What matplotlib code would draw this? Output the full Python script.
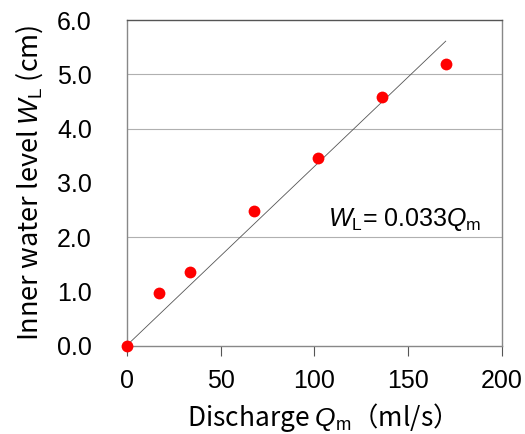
import matplotlib
matplotlib.use("Agg")
import matplotlib.pyplot as plt
import numpy as np

# Data
discharge = [0, 17, 34, 68, 102, 136, 170]
water_level = [0.0, 0.96, 1.35, 2.48, 3.45, 4.58, 5.19]
fit_slope = 0.033
fit_x = [0, 170]
x_ticks = [0, 50, 100, 150, 200]
y_ticks = [0.0, 1.0, 2.0, 3.0, 4.0, 5.0, 6.0]
y_tick_marks = [0.0, 2.0, 4.0, 5.0, 6.0]
grid_levels = [2.0, 4.0, 5.0]

plt.rcParams['font.family'] = ['Noto Sans CJK JP', 'DejaVu Sans']
plt.rcParams['mathtext.fontset'] = 'custom'
plt.rcParams['mathtext.rm'] = 'Liberation Sans'
plt.rcParams['mathtext.it'] = 'Liberation Sans:italic'

fig = plt.figure(figsize=(5.25, 4.34), dpi=100)
ax = fig.add_axes([0.2413, 0.2039, 0.9562 - 0.2413, 0.9539 - 0.2039])

for g in grid_levels:
    ax.axhline(g, color='#b0b0b0', lw=0.8, zorder=1)

fx = np.array(fit_x, dtype=float)
ax.plot(fx, fit_slope * fx, color='#555555', lw=0.6, zorder=2)
ax.plot(discharge, water_level, 'o', color='#ff0000', ms=8.5, mec='none', zorder=3, clip_on=False)

ax.set_xlim(0, 200)
ax.set_ylim(0, 6)
ax.set_xticks(x_ticks)
ax.set_xticklabels([str(v) for v in x_ticks], family=['Liberation Sans'])
ax.set_yticks(y_ticks)
ax.set_yticklabels([f"{v:.1f}" for v in y_ticks], family=['Liberation Sans'])
ax.set_yticks(y_tick_marks, minor=True)
ax.tick_params(axis='y', which='major', length=0, pad=25, labelsize=18)
ax.tick_params(axis='y', which='minor', length=7, width=0.8, color='#555555', direction='out')
ax.tick_params(axis='x', which='major', length=7, width=0.8, color='#555555', direction='out', pad=10, labelsize=18)

for s in ['left', 'bottom', 'right']:
    ax.spines[s].set_color('#888888')
    ax.spines[s].set_linewidth(1.0)
ax.spines['top'].set_color('#555555')
ax.spines['top'].set_linewidth(1.0)

ax.set_xlabel(r"Discharge $Q_\mathrm{m}$（ml/s）", fontsize=19, labelpad=6)
ax.set_ylabel(r"Inner water level $W_\mathrm{L}$ (cm)", fontsize=19.5, labelpad=9)

ax.text(107.5, 2.33, r"$W_\mathrm{L}$= 0.033$Q_\mathrm{m}$", fontsize=18,
        family=['Liberation Sans'], ha='left', va='center')

fig.savefig("out.png", dpi=100, facecolor='white')
